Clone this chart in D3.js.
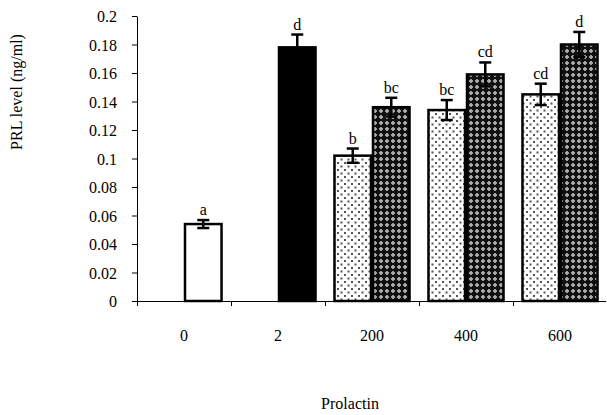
<!DOCTYPE html>
<html>
<head>
<meta charset="utf-8">
<script src="https://cdn.jsdelivr.net/npm/d3@7"></script>
<style>
  body { margin: 0; background: #fff; }
  text { font-family: "Liberation Serif", "Times New Roman", serif; fill: #000; }
</style>
</head>
<body>
<svg id="chart" width="607" height="415"></svg>
<script>
// data
let categories = ["0", "2", "200", "400", "600"];
let leftValues = [null, null, 0.102, 0.134, 0.145];
let leftErrors = [null, null, 0.005, 0.007, 0.0075];
let leftLetters = [null, null, "b", "bc", "cd"];
let rightValues = [0.054, 0.178, 0.136, 0.159, 0.180];
let rightErrors = [0.0028, 0.009, 0.0066, 0.0084, 0.0088];
let rightLetters = ["a", "d", "bc", "cd", "d"];
let rightFills = ["white", "black", "cross", "cross", "cross"];
let yTicks = [0, 0.02, 0.04, 0.06, 0.08, 0.1, 0.12, 0.14, 0.16, 0.18, 0.2];
let yTickLabels = ["0", "0.02", "0.04", "0.06", "0.08", "0.1", "0.12", "0.14", "0.16", "0.18", "0.2"];

let svg = d3.select("#chart");

// fill patterns
let defs = svg.append("defs");

let dots = defs.append("pattern")
    .attr("id", "dots")
    .attr("patternUnits", "userSpaceOnUse")
    .attr("width", 7)
    .attr("height", 7);
dots.append("rect").attr("width", 7).attr("height", 7).attr("fill", "#fff");
dots.append("rect").attr("x", 1).attr("y", 1).attr("width", 2).attr("height", 2).attr("fill", "#555");
dots.append("rect").attr("x", 4.5).attr("y", 4.5).attr("width", 2).attr("height", 2).attr("fill", "#555");

let cross = defs.append("pattern")
    .attr("id", "cross")
    .attr("patternUnits", "userSpaceOnUse")
    .attr("width", 6)
    .attr("height", 6);
cross.append("rect").attr("width", 6).attr("height", 6).attr("fill", "#111");
cross.append("rect").attr("x", 1).attr("y", 2).attr("width", 4).attr("height", 2).attr("fill", "#9a9a9a");
cross.append("rect").attr("x", 2).attr("y", 1).attr("width", 2).attr("height", 4).attr("fill", "#9a9a9a");
cross.append("rect").attr("x", 2.5).attr("y", 2.5).attr("width", 1).attr("height", 1).attr("fill", "#ddd");

let fillOf = {
    white: "#fff",
    black: "#000",
    cross: "url(#cross)",
    dots: "url(#dots)"
};

let xScale = d3.scaleBand()
    .domain(categories)
    .range([137, 607]);

let seriesScale = d3.scaleBand()
    .domain(["left", "right"])
    .range([0, xScale.bandwidth()])
    .paddingInner(0)
    .paddingOuter(0.22);

let yScale = d3.scaleLinear()
    .domain([0, 0.2])
    .range([301, 16]);

// y axis
let yAxis = d3.axisLeft(yScale)
    .tickValues(yTicks)
    .tickFormat((d, i) => yTickLabels[i])
    .tickSize(5)
    .tickPadding(15)
    .tickSizeOuter(0);

let gy = svg.append("g")
    .attr("transform", "translate(137,0)")
    .call(yAxis);
gy.selectAll("text").style("font-size", "16px").attr("dy", "0.35em");
gy.selectAll("line, path").attr("stroke", "#000").attr("stroke-width", 1);

// x axis, ticks sit between categories
let xAxis = d3.axisBottom(xScale)
    .tickSize(0)
    .tickPadding(29);

let gx = svg.append("g")
    .attr("transform", "translate(0,301)")
    .call(xAxis);
gx.select("path").remove();
gx.selectAll("text").style("font-size", "16px");

svg.append("line")
    .attr("x1", 137).attr("x2", 606)
    .attr("y1", 301.5).attr("y2", 301.5)
    .attr("stroke", "#000");

svg.append("g")
    .selectAll("line")
    .data(categories)
    .enter()
    .append("line")
    .attr("x1", d => Math.round(xScale(d)) + 0.5)
    .attr("x2", d => Math.round(xScale(d)) + 0.5)
    .attr("y1", 301)
    .attr("y2", 306)
    .attr("stroke", "#000");

// bars
let rows = [];
categories.forEach((c, i) => {
    if (leftValues[i] != null) {
        rows.push({cat: c, side: "left", v: leftValues[i], e: leftErrors[i], t: leftLetters[i], fill: "dots"});
    }
    rows.push({cat: c, side: "right", v: rightValues[i], e: rightErrors[i], t: rightLetters[i], fill: rightFills[i]});
});

let bars = svg.append("g");

bars.selectAll("rect")
    .data(rows)
    .enter()
    .append("rect")
    .attr("x", d => xScale(d.cat) + seriesScale(d.side) + 1)
    .attr("y", d => yScale(d.v))
    .attr("width", seriesScale.bandwidth() - 2)
    .attr("height", d => yScale(0) - yScale(d.v))
    .attr("fill", d => fillOf[d.fill])
    .attr("stroke", "#000")
    .attr("stroke-width", 2.5);

// error bars
let errs = svg.append("g")
    .attr("stroke", "#000")
    .attr("stroke-width", 2.5);

rows.forEach(d => {
    let cx = xScale(d.cat) + seriesScale(d.side) + seriesScale.bandwidth() / 2;
    let top = yScale(d.v + d.e);
    let bot = yScale(d.v - d.e);
    errs.append("line").attr("x1", cx).attr("x2", cx).attr("y1", top).attr("y2", bot);
    errs.append("line").attr("x1", cx - 6).attr("x2", cx + 6).attr("y1", top).attr("y2", top);
    errs.append("line").attr("x1", cx - 6).attr("x2", cx + 6).attr("y1", bot).attr("y2", bot);
});

// significance letters
svg.append("g")
    .selectAll("text")
    .data(rows)
    .enter()
    .append("text")
    .attr("x", d => xScale(d.cat) + seriesScale(d.side) + seriesScale.bandwidth() / 2)
    .attr("y", d => yScale(d.v + d.e) - 5)
    .attr("text-anchor", "middle")
    .style("font-size", "16px")
    .text(d => d.t);

// axis titles
svg.append("text")
    .attr("transform", "translate(22,92) rotate(-90)")
    .attr("text-anchor", "middle")
    .style("font-size", "16px")
    .text("PRL level (ng/ml)");

svg.append("text")
    .attr("x", 350)
    .attr("y", 409)
    .attr("text-anchor", "middle")
    .style("font-size", "16px")
    .text("Prolactin");
</script>
</body>
</html>
